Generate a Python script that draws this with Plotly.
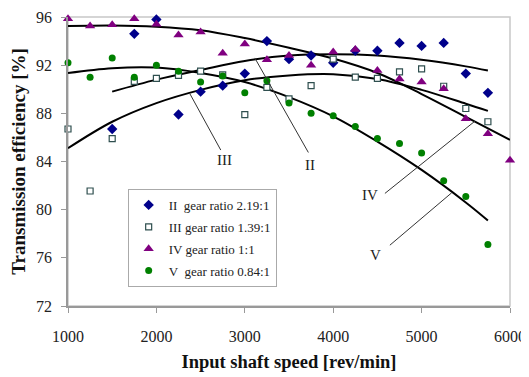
import plotly.graph_objects as go

# ---------------- data ----------------
speed_II = [1500, 1750, 2000, 2250, 2500, 2750, 3000, 3250, 3500, 3750, 4000, 4250, 4500, 4750, 5000, 5250, 5500, 5750]
eff_II = [86.7, 94.6, 95.8, 87.9, 89.8, 90.3, 91.3, 94.0, 92.5, 92.8, 92.2, 93.2, 93.2, 93.85, 93.6, 93.85, 91.3, 89.7]

speed_III = [1000, 1250, 1500, 1750, 2000, 2250, 2500, 2750, 3000, 3250, 3500, 3750, 4000, 4250, 4500, 4750, 5000, 5250, 5500, 5750]
eff_III = [86.7, 81.55, 85.9, 90.65, 90.9, 91.15, 91.5, 91.2, 87.9, 90.15, 89.2, 90.3, 92.5, 91.0, 90.9, 91.45, 91.7, 90.25, 88.4, 87.3]

speed_IV = [1000, 1250, 1500, 1750, 2000, 2250, 2500, 2750, 3000, 3250, 3500, 3750, 4000, 4250, 4500, 4750, 5000, 5250, 5500, 5750, 6000]
eff_IV = [95.85, 95.25, 95.35, 95.85, 95.4, 94.5, 94.75, 93.0, 93.75, 92.45, 92.8, 92.0, 93.1, 93.3, 91.55, 90.85, 90.6, 90.05, 87.55, 86.3, 84.1]

speed_V = [1000, 1250, 1500, 1750, 2000, 2250, 2500, 2750, 3000, 3250, 3500, 3750, 4000, 4250, 4500, 4750, 5000, 5250, 5500, 5750]
eff_V = [92.2, 91.0, 92.6, 91.0, 92.0, 91.5, 90.6, 91.1, 89.7, 90.7, 88.85, 88.0, 87.8, 86.9, 85.9, 85.5, 84.7, 82.4, 81.1, 77.1]

# trend curves
trend_II_x = [1500, 2000, 2500, 3000, 3500, 4000, 4500, 5000, 5500, 5750]
trend_II_y = [89.8, 90.8, 91.6, 92.35, 92.8, 92.9, 92.8, 92.45, 91.9, 91.55]
trend_III_x = [1000, 1500, 2000, 2500, 3000, 3500, 4000, 4500, 5000, 5500, 5750]
trend_III_y = [85.1, 87.3, 88.85, 89.95, 90.75, 91.15, 91.25, 90.85, 89.95, 88.8, 88.2]
trend_IV_x = [1000, 1500, 2000, 2500, 3000, 3500, 4000, 4500, 5000, 5500, 6000]
trend_IV_y = [95.25, 95.3, 95.2, 94.9, 94.25, 93.45, 92.55, 91.35, 89.6, 87.7, 85.8]
trend_V_x = [1000, 1500, 2000, 2500, 3000, 3500, 4000, 4500, 5000, 5500, 5750]
trend_V_y = [91.35, 91.75, 91.8, 91.35, 90.6, 89.35, 87.75, 85.65, 83.3, 80.6, 79.1]

legend_names = ["II\u00a0 gear ratio 2.19:1", "III gear ratio 1.39:1", "IV gear ratio 1:1", "V\u00a0 gear ratio 0.84:1"]
curve_labels = ["II", "III", "IV", "V"]
x_ticks = [1000, 2000, 3000, 4000, 5000, 6000]
y_ticks = [72, 76, 80, 84, 88, 92, 96]

FONT = "Times New Roman, Liberation Serif, serif"

fig = go.Figure()

# trend lines first (under markers)
for tx, ty in [(trend_II_x, trend_II_y), (trend_III_x, trend_III_y), (trend_IV_x, trend_IV_y), (trend_V_x, trend_V_y)]:
    fig.add_trace(go.Scatter(x=tx, y=ty, mode="lines", line=dict(color="black", width=2, shape="spline", smoothing=1.0),
                             showlegend=False, hoverinfo="skip", cliponaxis=False))

fig.add_trace(go.Scatter(x=speed_II, y=eff_II, mode="markers", name=legend_names[0], legendgroup="g2", cliponaxis=False,
                         marker=dict(symbol="diamond", size=8, color="#00008b", line=dict(width=0))))
fig.add_trace(go.Scatter(x=speed_III, y=eff_III, mode="markers", name=legend_names[1], legendgroup="g3", cliponaxis=False,
                         marker=dict(symbol="square", size=6, color="white", line=dict(width=1.2, color="#2f4f4f"))))
fig.add_trace(go.Scatter(x=speed_IV, y=eff_IV, mode="markers", name=legend_names[2], legendgroup="g4", cliponaxis=False,
                         marker=dict(symbol="triangle-up", size=9, color="#800080", line=dict(width=0))))
fig.add_trace(go.Scatter(x=speed_V, y=eff_V, mode="markers", name=legend_names[3], legendgroup="g5", cliponaxis=False,
                         marker=dict(symbol="circle", size=7, color="#008000", line=dict(width=0))))

# pointer lines and labels (data coordinates)
pointers = [
    (3113, 92.6, 3719, 84.75, 3736, 83.75),
    (2377, 89.65, 2728, 84.95, 2774, 84.15),
    (5603, 87.35, 4585, 81.35, 4415, 81.2),
    (5340, 81.4, 4641, 77.05, 4483, 76.25),
]
for (x0, y0, x1, y1, lx, ly), lab in zip(pointers, curve_labels):
    fig.add_shape(type="line", x0=x0, y0=y0, x1=x1, y1=y1, xref="x", yref="y",
                  line=dict(color="#333333", width=1))
    fig.add_annotation(x=lx, y=ly, text=lab, showarrow=False, xref="x", yref="y",
                       font=dict(family=FONT, size=15, color="#222222"))

# frame
fig.add_shape(type="rect", xref="paper", yref="paper", x0=0, y0=0, x1=1, y1=1,
              line=dict(color="#c8c8c8", width=1.5), layer="below")

# the page body adds an 8px margin, so the figure is 8px smaller on each axis
fig.update_layout(
    width=521, height=369,
    margin=dict(l=60, r=19, t=9, b=71, autoexpand=False),
    paper_bgcolor="white", plot_bgcolor="white",
    font=dict(family=FONT, color="#222222"),
    showlegend=True,
    legend=dict(x=0.135, y=0.405, xanchor="left", yanchor="top",
                bordercolor="#aaaaaa", borderwidth=1, bgcolor="white",
                font=dict(family=FONT, size=13, color="#222222"),
                itemwidth=30, tracegroupgap=2),
)
fig.update_xaxes(range=[1000, 6000], tickvals=x_ticks, ticktext=[str(v) for v in x_ticks], automargin=False,
                 showgrid=False, zeroline=False, showline=True, linecolor="#999999", linewidth=1.5,
                 ticks="outside", ticklen=5, tickcolor="#999999", ticklabelstandoff=10,
                 tickfont=dict(family=FONT, size=16, color="#222222"),
                 title=dict(text="<b>Input shaft speed [rev/min]</b>", font=dict(family=FONT, size=18.5, color="#111111"), standoff=11))
fig.update_yaxes(range=[72, 96], tickvals=y_ticks, ticktext=[str(v) for v in y_ticks], automargin=False,
                 showgrid=False, zeroline=False, showline=True, linecolor="#999999", linewidth=1.5,
                 ticks="outside", ticklen=5, tickcolor="#999999", ticklabelstandoff=6,
                 tickfont=dict(family=FONT, size=16, color="#222222"),
                 title=dict(text="<b>Transmission efficiency [%]</b>", font=dict(family=FONT, size=19, color="#111111"), standoff=9))

fig.write_html("out.html")
